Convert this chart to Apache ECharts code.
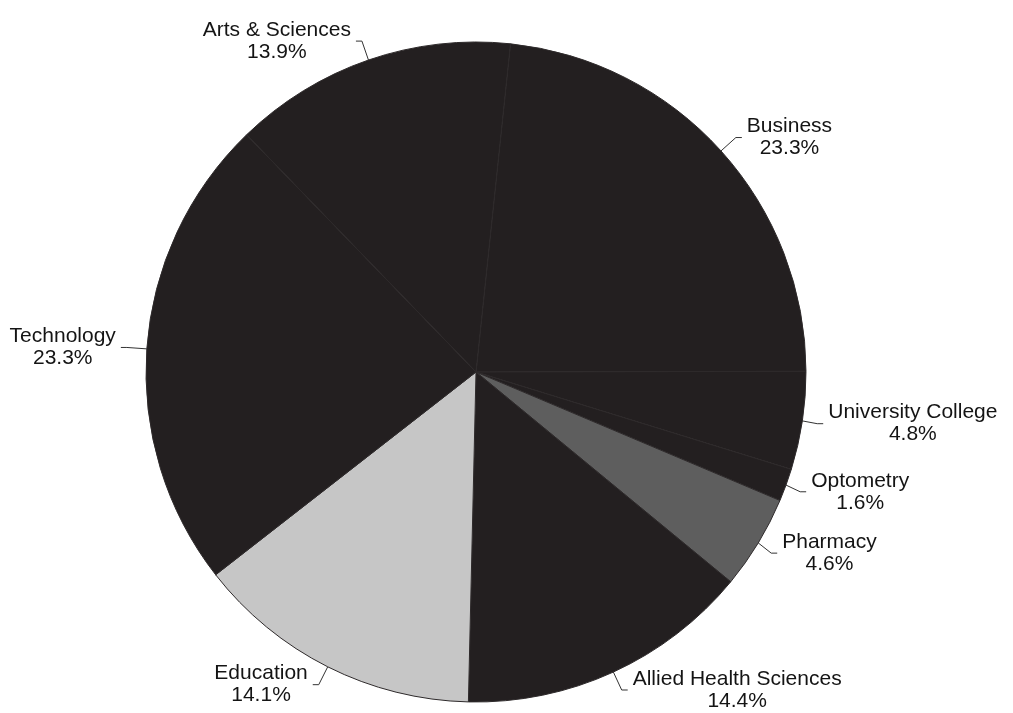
<!DOCTYPE html>
<html>
<head>
<meta charset="utf-8">
<script src="https://cdn.jsdelivr.net/npm/echarts@6/dist/echarts.min.js"></script>
<style>
  html, body { margin: 0; padding: 0; background: #ffffff; }
  #chart { width: 1013px; height: 713px; }
</style>
</head>
<body>
<div id="chart"></div>
<script>
// Data (clockwise from near 12 o'clock)
const categories = ["Business", "University College", "Optometry", "Pharmacy",
                    "Allied Health Sciences", "Education", "Technology", "Arts & Sciences"];
const shares = [23.3, 4.8, 1.6, 4.6, 14.4, 14.1, 23.3, 13.9];

// Styles
const BLACK = '#231f20';
const sliceColors = [BLACK, BLACK, BLACK, '#5e5e5e', BLACK, '#c6c6c6', BLACK, BLACK];

const chart = echarts.init(document.getElementById('chart'), null, { renderer: 'canvas' });

chart.setOption({
  backgroundColor: '#ffffff',
  animation: false,
  series: [{
    type: 'pie',
    center: [476, 372],
    radius: 330,
    startAngle: 84,
    clockwise: true,
    avoidLabelOverlap: true,
    minShowLabelAngle: 0,
    data: categories.map((name, i) => ({
      name: name,
      value: shares[i],
      itemStyle: { color: sliceColors[i] }
    })),
    itemStyle: { borderColor: '#2e2a2b', borderWidth: 1 },
    label: {
      show: true,
      position: 'outside',
      alignTo: 'none',
      bleedMargin: 0,
      overflow: 'none',
      distanceToLabelLine: 5,
      formatter: p => p.name + '\n' + p.value.toFixed(1) + '%',
      fontFamily: '"Liberation Sans", Arial, sans-serif',
      fontSize: 21,
      lineHeight: 22,
      color: '#141414'
    },
    labelLine: {
      show: true,
      length: 20,
      length2: 6,
      smooth: false,
      lineStyle: { color: '#333333', width: 1 }
    },
    labelLayout: function (params) {
      const r = params.labelRect;
      return {
        x: r.x + r.width / 2,
        y: r.y + r.height / 2,
        align: 'center',
        verticalAlign: 'middle',
        labelLinePoints: params.labelLinePoints
      };
    },
    emphasis: { disabled: true }
  }]
});
</script>
</body>
</html>
